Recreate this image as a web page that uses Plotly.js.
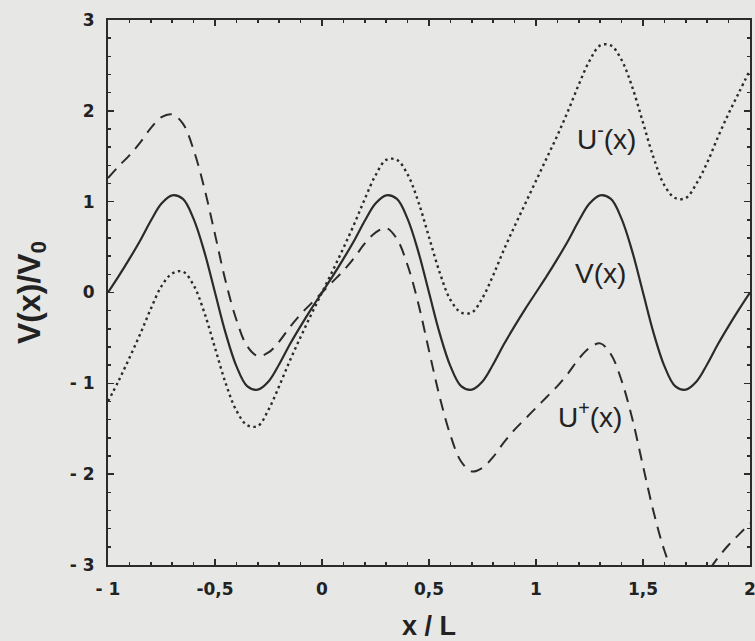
<!DOCTYPE html>
<html>
<head>
<meta charset="utf-8">
<script src="https://cdn.plot.ly/plotly-3.0.1.min.js"></script>
<style>html,body{margin:0;padding:0;background:#e7e7e5;}</style>
</head>
<body>
<div id="chart" style="width:755px;height:641px;"></div>
<script>
// x / L sample positions
const xValues = [-1.00,-0.95,-0.90,-0.85,-0.80,-0.75,-0.70,-0.65,-0.60,-0.55,
  -0.50,-0.45,-0.40,-0.35,-0.30,-0.25,-0.20,-0.15,-0.10,-0.05,
  0.00,0.05,0.10,0.15,0.20,0.25,0.30,0.35,0.40,0.45,
  0.50,0.55,0.60,0.65,0.70,0.75,0.80,0.85,0.90,0.95,
  1.00,1.05,1.10,1.15,1.20,1.25,1.30,1.35,1.40,1.45,
  1.50,1.55,1.60,1.65,1.70,1.75,1.80,1.85,1.90,1.95,2.00];

// V(x)/V0 (solid)
const vValues = [0.00,0.18,0.37,0.57,0.79,0.98,1.07,1.03,0.81,0.45,
  0.00,-0.45,-0.81,-1.03,-1.07,-0.98,-0.79,-0.57,-0.37,-0.18,
  0.00,0.18,0.37,0.57,0.79,0.98,1.07,1.03,0.81,0.45,
  0.00,-0.45,-0.81,-1.03,-1.07,-0.98,-0.79,-0.57,-0.37,-0.18,
  0.00,0.18,0.37,0.57,0.79,0.98,1.07,1.03,0.81,0.45,
  0.00,-0.45,-0.81,-1.03,-1.07,-0.98,-0.79,-0.57,-0.37,-0.18,0.00];

// U-(x) (dotted)
const uMinusValues = [-1.20,-0.97,-0.72,-0.46,-0.18,0.07,0.21,0.23,0.08,-0.22,
  -0.61,-1.00,-1.30,-1.46,-1.47,-1.29,-1.03,-0.75,-0.49,-0.24,
  0.00,0.24,0.49,0.75,1.03,1.29,1.46,1.46,1.30,1.00,
  0.61,0.22,-0.08,-0.22,-0.22,-0.06,0.19,0.47,0.73,0.98,
  1.23,1.48,1.73,2.00,2.29,2.55,2.72,2.72,2.56,2.26,
  1.87,1.48,1.18,1.04,1.04,1.20,1.43,1.71,1.97,2.21,2.45];

// U+(x) (dashed)
const uPlusValues = [1.26,1.39,1.51,1.65,1.81,1.93,1.96,1.86,1.57,1.15,
  0.64,0.12,-0.30,-0.59,-0.70,-0.66,-0.54,-0.38,-0.24,-0.12,
  0.00,0.12,0.24,0.38,0.54,0.66,0.71,0.59,0.30,-0.12,
  -0.64,-1.15,-1.57,-1.86,-1.97,-1.93,-1.81,-1.65,-1.51,-1.39,
  -1.27,-1.15,-1.03,-0.89,-0.73,-0.61,-0.56,-0.68,-0.97,-1.39,
  -1.91,-2.42,-2.84,-3.13,-3.24,-3.20,-3.08,-2.92,-2.78,-2.66,-2.54];

const xTickVals = [-1, -0.5, 0, 0.5, 1, 1.5, 2];
const xTickText = ["- 1", "-0,5", "0", "0,5", "1", "1,5", "2"];
const yTickVals = [-3, -2, -1, 0, 1, 2, 3];
const yTickText = ["- 3", "- 2", "- 1", "0", "1", "2", "3"];

const curveLabels = ["U<sup>-</sup>(x)", "V(x)", "U<sup>+</sup>(x)"];
const labelX = [1.33, 1.30, 1.25];
const labelY = [1.71, 0.21, -1.35];

const ink = '#2b2b2b';
const bg = '#e7e7e5';

const traces = [
  {x: xValues, y: vValues, mode: 'lines', line: {color: ink, width: 2.2, shape: 'spline', smoothing: 1}},
  {x: xValues, y: uMinusValues, mode: 'lines', line: {color: ink, width: 2.4, dash: '2.5px,3.5px', shape: 'spline', smoothing: 1}},
  {x: xValues, y: uPlusValues, mode: 'lines', line: {color: ink, width: 2, dash: '12px,8px', shape: 'spline', smoothing: 1}}
];

const axisFont = {family: 'DejaVu Sans, Liberation Sans, sans-serif', size: 17, color: '#222', weight: 'bold'};

const layout = {
  width: 755, height: 641,
  paper_bgcolor: bg, plot_bgcolor: bg,
  showlegend: false,
  margin: {l: 108, r: 5, t: 20, b: 76},
  xaxis: {
    range: [-1, 2], tickmode: 'array', tickvals: xTickVals, ticktext: xTickText,
    ticks: 'inside', ticklen: 6, tickwidth: 1.5, tickcolor: ink,
    showline: true, linewidth: 2, linecolor: ink, mirror: 'allticks',
    showgrid: false, zeroline: false,
    tickfont: axisFont, ticklabelstandoff: 8, ticklabeloverflow: 'allow',
    minor: {tick0: 0, dtick: 0.1, ticks: 'inside', ticklen: 3, tickwidth: 1.5, tickcolor: ink, showgrid: false},
    title: {text: 'x / L', font: {family: 'Liberation Sans, Arial, sans-serif', size: 27, color: '#222', weight: 'bold'}, standoff: 21}
  },
  yaxis: {
    range: [-3, 3], tickmode: 'array', tickvals: yTickVals, ticktext: yTickText,
    ticks: 'inside', ticklen: 6, tickwidth: 1.5, tickcolor: ink,
    showline: true, linewidth: 2, linecolor: ink, mirror: 'allticks',
    showgrid: false, zeroline: false,
    tickfont: axisFont, ticklabelstandoff: 8, ticklabeloverflow: 'allow',
    minor: {tick0: 0, dtick: 0.2, ticks: 'inside', ticklen: 3, tickwidth: 1.5, tickcolor: ink, showgrid: false},
    title: {text: 'V(x)/V<sub>0</sub>', font: {family: 'Liberation Sans, Arial, sans-serif', size: 32, color: '#222', weight: 'bold'}, standoff: 20}
  },
  annotations: curveLabels.map((t, i) => ({
    x: labelX[i], y: labelY[i], xref: 'x', yref: 'y', text: t, showarrow: false,
    font: {family: 'Liberation Sans, Arial, sans-serif', size: 28, color: '#222'},
    bgcolor: 'rgba(0,0,0,0)'
  }))
};

Plotly.newPlot('chart', traces, layout, {displayModeBar: false, staticPlot: true});
</script>
</body>
</html>
